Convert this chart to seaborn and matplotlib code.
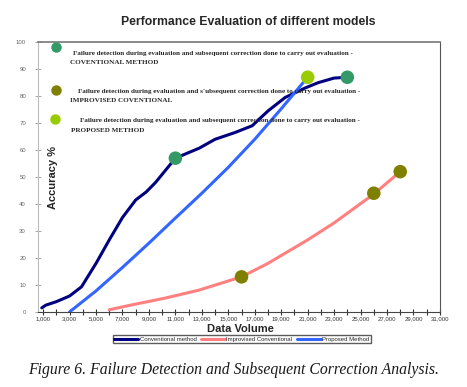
import numpy as np
import pandas as pd
import seaborn as sns
import matplotlib.pyplot as plt
from matplotlib.ticker import MultipleLocator, FuncFormatter

# valori
conv_x = [900, 1200, 2000, 3000, 3900, 5000, 6000, 7000, 8000, 8800, 9500, 11000,
          12800, 14000, 15500, 16800, 18000, 19300, 20800, 21800, 23000, 24000]
conv_y = [1.5, 2.5, 3.8, 5.9, 9.3, 18, 26.7, 35, 41.5, 44.5, 48, 57,
          60.7, 64, 66.5, 69, 74.5, 79.5, 83, 85, 86.7, 87]
impr_x = [6000, 7700, 10300, 12800, 16000, 18000, 21000, 23000, 26000, 28000]
impr_y = [0.8, 2.6, 5.2, 8.1, 13, 18, 26.7, 33, 43.7, 52]
prop_x = [3000, 5000, 7000, 9000, 11000, 13000, 15000, 17000, 19000, 21000]
prop_y = [0, 7.8, 16.5, 25.5, 34.8, 44, 53.6, 64, 75.3, 87]

conv_mk_x = [11000, 24000]
conv_mk_y = [57, 87]
impr_mk_x = [16000, 26000, 28000]
impr_mk_y = [13, 44, 52]
prop_mk_x = [21000]
prop_mk_y = [87]

names = ["Conventional method", "Improvised Conventional", "Proposed Method"]
line_colors = ["#000080", "#ff8080", "#3366ff"]
mk_colors = ["#339966", "#808000", "#99cc00"]

notes = [
    ("Failure detection during evaluation and subsequent correction done to carry out evaluation -",
     "COVENTIONAL METHOD"),
    ("Failure detection during evaluation and s`ubsequent correction done to carry out evaluation -",
     "IMPROVISED COVENTIONAL"),
    ("Failure detection during evaluation and subsequent correction done to carry out evaluation -",
     "PROPOSED METHOD"),
]

sns.set_style("white")
plt.rcParams['font.family'] = ['Liberation Sans', 'DejaVu Sans']

lines = pd.concat([
    pd.DataFrame({"x": conv_x, "y": conv_y, "serie": names[0]}),
    pd.DataFrame({"x": impr_x, "y": impr_y, "serie": names[1]}),
    pd.DataFrame({"x": prop_x, "y": prop_y, "serie": names[2]}),
])
marks = pd.concat([
    pd.DataFrame({"x": conv_mk_x, "y": conv_mk_y, "serie": "c"}),
    pd.DataFrame({"x": impr_mk_x, "y": impr_mk_y, "serie": "i"}),
    pd.DataFrame({"x": prop_mk_x, "y": prop_mk_y, "serie": "p"}),
])

fig = plt.figure(figsize=(4.67, 3.87), dpi=100)
ax = fig.add_axes([0.081, 0.194, 0.861, 0.697])

sns.lineplot(data=lines, x="x", y="y", hue="serie", palette=line_colors,
             sort=False, estimator=None, linewidth=2.2, ax=ax)
sns.scatterplot(data=marks, x="x", y="y", hue="serie", palette=mk_colors,
                s=95, edgecolor="none", legend=False, ax=ax, zorder=5)

ax.set_xlim(600, 31000)
ax.set_ylim(0, 100)
ax.set_xticks(np.arange(1000, 31001, 2000))
ax.xaxis.set_minor_locator(MultipleLocator(1000))
ax.xaxis.set_major_formatter(FuncFormatter(lambda v, p: f"{int(v):,}"))
ax.set_yticks(np.arange(0, 101, 10))
ax.tick_params(axis="x", which="both", direction="inout", length=4, width=0.8,
               labelsize=4.3, pad=1, colors="#333333", bottom=True)
ax.tick_params(axis="y", direction="inout", length=5, width=0.6,
               labelsize=4.3, pad=6, colors="#999999", left=True)
ax.tick_params(axis="y", labelcolor="#666666")

ax.spines["left"].set_color("#bbbbbb")
ax.spines["top"].set_color("#777777")
ax.spines["top"].set_linewidth(1.2)
ax.spines["right"].set_color("#555555")
ax.spines["bottom"].set_color("#444444")

ax.set_xlabel("")
ax.set_ylabel("")
fig.text(0.532, 0.942, "Performance Evaluation of different models",
         ha="center", va="center", fontsize=8.8, fontweight="bold")
fig.text(0.515, 0.15, "Data Volume", ha="center", va="center",
         fontsize=8, fontweight="bold")
ax.text(0.038, 0.5, "Accuracy %", transform=ax.transAxes, rotation=90,
        ha="center", va="center", fontsize=8, fontweight="bold")

# legenda interna con pallini
dot_pos = [(0.045, 0.981), (0.045, 0.822), (0.043, 0.715)]
txt_pos = [((0.087, 0.959), (0.08, 0.926)),
           ((0.100, 0.819), (0.08, 0.785)),
           ((0.104, 0.711), (0.082, 0.674))]
for (dx, dy), c, (l1, l2), ((x1, y1), (x2, y2)) in zip(dot_pos, mk_colors, notes, txt_pos):
    ax.plot(dx, dy, "o", color=c, markersize=6.5, transform=ax.transAxes,
            clip_on=False, zorder=6)
    ax.text(x1, y1, l1, transform=ax.transAxes, ha="left", va="center",
            fontsize=5.1, fontweight="bold", family="Liberation Serif")
    ax.text(x2, y2, l2, transform=ax.transAxes, ha="left", va="center",
            fontsize=5.1, fontweight="bold", family="Liberation Serif")

handles, labels = ax.get_legend_handles_labels()
leg = fig.legend(handles[:3], names, loc="center", bbox_to_anchor=(0.518, 0.124),
                 ncol=3, fontsize=4.3, frameon=True, fancybox=False,
                 edgecolor="#333333", handlelength=4, columnspacing=0.8,
                 handletextpad=0.2, borderpad=0.25, borderaxespad=0)
leg.get_frame().set_linewidth(1.0)
if ax.get_legend() is not None:
    ax.get_legend().remove()

fig.text(0.5, 0.043, "Figure 6. Failure Detection and Subsequent Correction Analysis.",
         ha="center", va="center", fontsize=11.3, style="italic",
         family="Liberation Serif", color="#1a1a1a")

plt.savefig("out.png", dpi=100)
